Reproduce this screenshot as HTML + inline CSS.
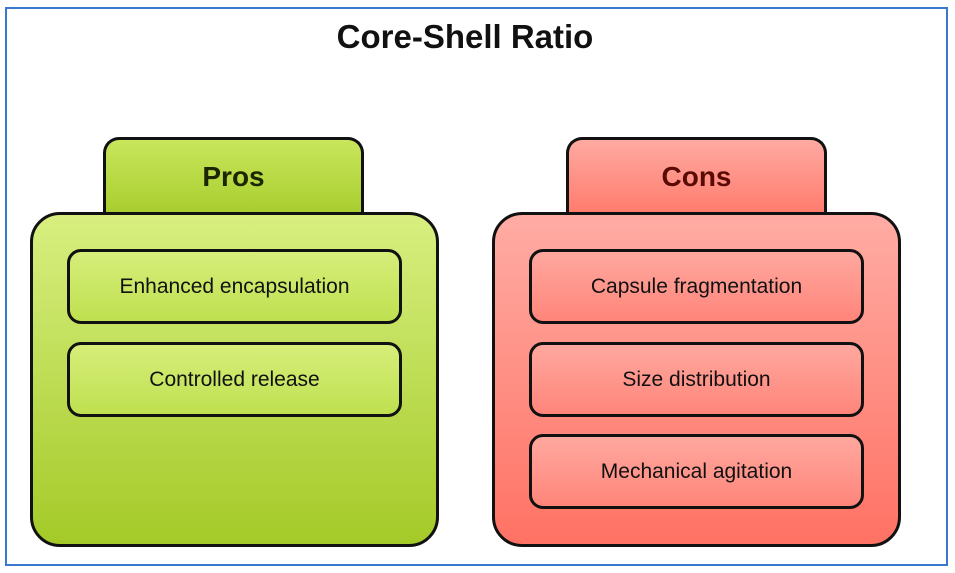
<!DOCTYPE html>
<html><head><style>
body{margin:0;width:955px;height:573px;background:#fff;position:relative;overflow:hidden;font-family:"Liberation Sans",sans-serif}
.frame{position:absolute;left:5px;top:7px;width:943px;height:559px;border:2px solid #3a78d0;box-sizing:border-box}
.t{position:absolute;left:0;width:930px;top:18px;text-align:center;font-weight:bold;font-size:33px;color:#111}
.b{position:absolute;box-sizing:border-box;border:3px solid #111}
.tab{border-radius:16px 16px 0 0;border-bottom:none;display:flex;align-items:center;justify-content:center;font-weight:bold;font-size:28px;padding-bottom:2px}
.main{border-radius:30px}
.it{border-radius:14px;display:flex;align-items:center;justify-content:center;font-size:21px;color:#111}
.g{background:linear-gradient(#d8ef80,#a4ca28)}
.gt{background:linear-gradient(#c9e65c,#a8cd2e);color:#1c2600}
.gi{background:linear-gradient(#d6ee7a,#bfe050)}
.r{background:linear-gradient(#ffaca4,#ff7264)}
.rt{background:linear-gradient(#ffaaa2,#ff7a6c);color:#5a0a05}
.ri{background:linear-gradient(#ffa89f,#ff857a)}
</style></head><body>
<div class="frame"></div>
<div class="t">Core-Shell Ratio</div>
<div class="b tab gt" style="left:103px;top:137px;width:261px;height:78px">Pros</div>
<div class="b main g" style="left:30px;top:212px;width:409px;height:335px"></div>
<div class="b it gi" style="left:67px;top:249px;width:335px;height:75px">Enhanced encapsulation</div>
<div class="b it gi" style="left:67px;top:342px;width:335px;height:75px">Controlled release</div>
<div class="b tab rt" style="left:566px;top:137px;width:261px;height:78px">Cons</div>
<div class="b main r" style="left:492px;top:212px;width:409px;height:335px"></div>
<div class="b it ri" style="left:529px;top:249px;width:335px;height:75px">Capsule fragmentation</div>
<div class="b it ri" style="left:529px;top:342px;width:335px;height:75px">Size distribution</div>
<div class="b it ri" style="left:529px;top:434px;width:335px;height:75px">Mechanical agitation</div>
</body></html>
